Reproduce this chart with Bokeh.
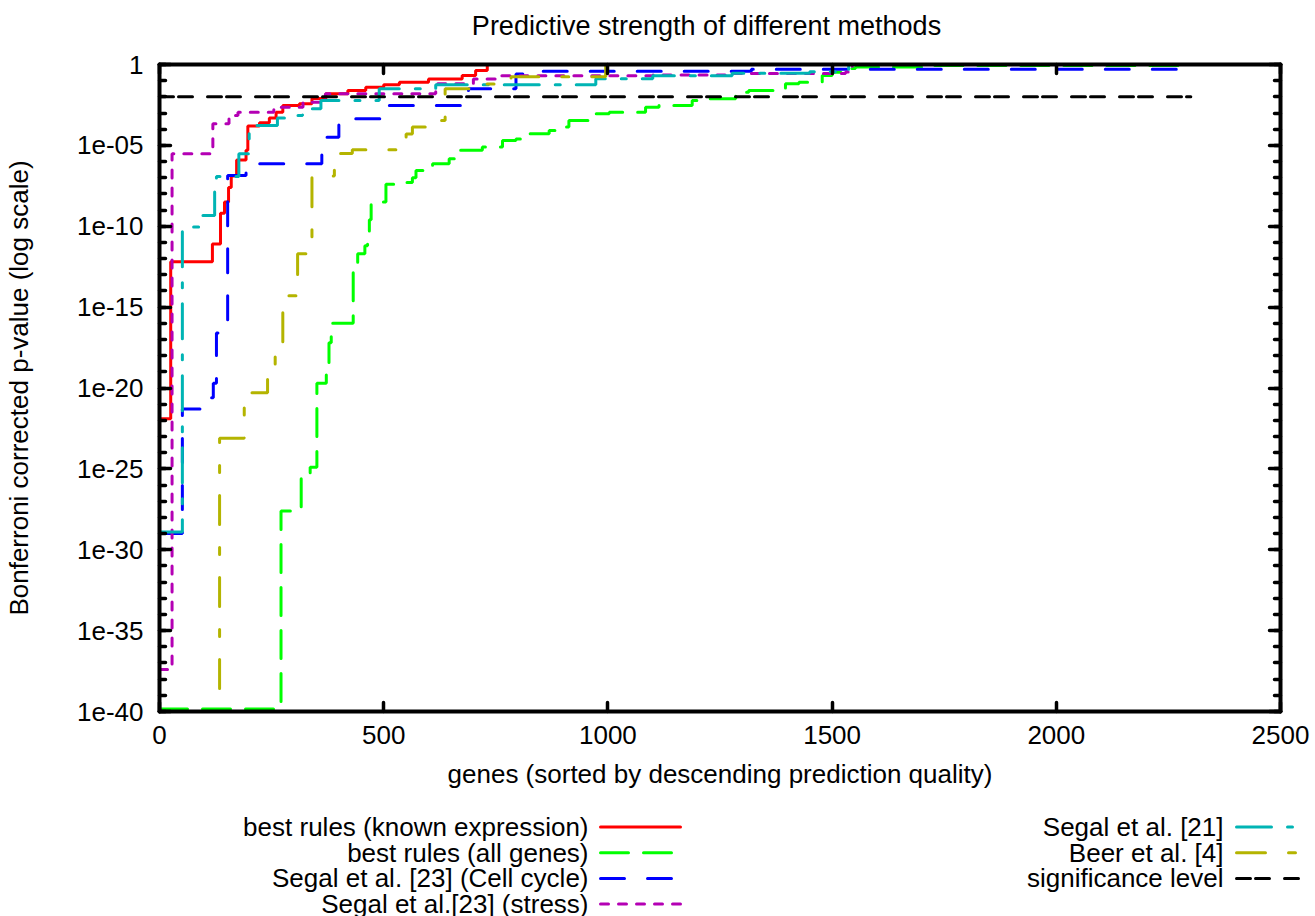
from bokeh.plotting import figure
from bokeh.models import Range1d, FixedTicker, LogAxis, LinearAxis, CustomJSTickFormatter
from bokeh.layouts import column
from bokeh.embed import file_html
from bokeh.resources import INLINE
from bokeh.core.properties import value

FONT = "Liberation Sans"
FS = "26px"

title_text = "Predictive strength of different methods"
x_label = "genes (sorted by descending prediction quality)"
y_label = "Bonferroni corrected p-value (log scale)"

x_ticks = [0, 500, 1000, 1500, 2000, 2500]
y_major_exp = [0, -5, -10, -15, -20, -25, -30, -35, -40]

# step series: gene rank where a step starts, and log10 of the p-value from there on
red_x = [0, 25, 118, 136, 145, 154, 160, 172, 193, 197, 223, 245, 260, 275, 312, 340, 371, 420, 460, 500, 535, 600, 675, 705, 731]
red_e = [-21.9, -12.2, -11.1, -9.2, -8.5, -7.6, -6.9, -5.9, -5.3, -3.8, -3.6, -3.3, -2.95, -2.53, -2.43, -2.1, -1.81, -1.6, -1.4, -1.25, -1.09, -0.9, -0.68, -0.37, 0.0]

green_x = [0, 271, 316, 336, 351, 372, 378, 383, 432, 442, 458, 464, 468, 472, 505, 531, 564, 572, 609, 646, 668, 720, 765, 795, 817, 869, 895, 913, 973, 1003, 1084, 1114, 1188, 1218, 1285, 1314, 1396, 1426, 1478, 1500, 1523, 1552, 1716, 2300]
green_e = [-39.85, -27.6, -25.6, -24.9, -19.7, -18.7, -17.2, -16.0, -12.3, -11.7, -11.2, -10.3, -9.6, -8.5, -7.4, -7.3, -7.0, -6.55, -6.14, -5.83, -5.3, -5.1, -4.7, -4.6, -4.28, -4.08, -3.87, -3.46, -3.05, -2.95, -2.64, -2.53, -2.22, -2.12, -1.71, -1.61, -1.19, -1.09, -0.68, -0.48, -0.25, -0.16, -0.06, -0.06]

blue_x = [0, 51, 104, 120, 127, 152, 193, 362, 400, 494, 689, 795, 847, 1320, 2300]
blue_e = [-29.0, -21.3, -20.6, -19.7, -16.6, -6.86, -6.14, -4.49, -3.36, -2.53, -1.5, -0.58, -0.42, -0.3, -0.3]

magenta_x = [0, 28, 119, 155, 175, 255, 320, 370, 616, 700, 760, 1100, 1277, 1530, 1545]
magenta_e = [-37.4, -5.52, -3.67, -3.15, -2.95, -2.64, -2.33, -1.81, -1.19, -0.9, -0.7, -0.65, -0.55, -0.47, 0.0]

cyan_x = [0, 51, 70, 93, 123, 127, 177, 200, 263, 301, 319, 360, 490, 616, 973, 1100, 1277, 1450, 1537]
cyan_e = [-28.9, -10.26, -10.05, -9.33, -7.68, -6.92, -5.52, -3.77, -3.3, -3.15, -2.74, -2.22, -1.5, -1.25, -0.88, -0.7, -0.54, -0.45, 0.0]

olive_x = [0, 134, 189, 241, 258, 275, 308, 327, 340, 390, 430, 550, 564, 613, 637, 691, 784, 995]
olive_e = [-45.0, -23.1, -20.3, -19.3, -17.2, -14.3, -11.7, -10.8, -6.9, -5.5, -5.27, -4.3, -3.87, -3.46, -1.5, -1.2, -0.75, 0.0]

significance_level = 0.01
sig_x = [0, 2300]

series = [
    ("best rules (known expression)", red_x, red_e, "#ff0000", "solid"),
    ("best rules (all genes)", green_x, green_e, "#00ff00", "28 15"),
    ("Segal et al. [23] (Cell cycle)", blue_x, blue_e, "#0000ff", "24 23"),
    ("Segal et al.[23] (stress)", magenta_x, magenta_e, "#b400b4", "8 10"),
    ("Segal et al. [21]", cyan_x, cyan_e, "#00b4b4", "35 16 5 16"),
    ("Beer et al. [4]", olive_x, olive_e, "#b4b400", "29 23 7 23"),
]
sig_name = "significance level"
sig_color = "#000000"
sig_dash = "14 5 14 15"

W = 1315
H0 = 44           # title strip
H1 = 798 - H0     # main plot
H2 = 916 - H0 - H1  # legend strip


def strip(h):
    f = figure(width=W, height=h, x_range=Range1d(0, W), y_range=Range1d(h, 0),
               toolbar_location=None, output_backend="svg", min_border=0,
               x_axis_location=None, y_axis_location=None)
    f.frame_align = False
    f.grid.visible = False
    f.outline_line_color = None
    return f


# title strip
top = strip(H0)
top.text(x=[706], y=[25], text=[title_text], text_align="center", text_baseline="middle",
         text_font=value(FONT), text_font_size="27px", text_color="black")

p = figure(width=W, height=H1, x_range=Range1d(0, 2500), y_range=Range1d(1e-40, 1),
           y_axis_type="log", toolbar_location=None, output_backend="svg",
           min_border_left=159, min_border_right=35, min_border_top=64 - H0, min_border_bottom=87)
p.frame_align = False
p.grid.visible = False
p.outline_line_color = None

for name, xs, es, color, dash in series:
    p.step(xs, [10.0 ** e for e in es], mode="after", line_width=3, line_color=color,
           line_dash=dash, line_cap="round")
p.line(sig_x, [significance_level] * len(sig_x), line_width=3, line_color=sig_color,
       line_dash=sig_dash, line_cap="round")

yticker = FixedTicker(ticks=[10.0 ** e for e in y_major_exp], minor_ticks=[10.0 ** -k for k in range(0, 41)])
xticker = FixedTicker(ticks=x_ticks, minor_ticks=[])
yfmt = CustomJSTickFormatter(code="""
const e = Math.round(Math.log10(tick));
if (e === 0) return "1";
const a = Math.abs(e);
return "1e-" + (a < 10 ? "0" + a : String(a));
""")
blank = CustomJSTickFormatter(code="return '';")


def style(ax, major_in, minor_in):
    ax.axis_line_width = 4
    ax.axis_line_color = "black"
    ax.axis_line_cap = "round"
    ax.major_tick_in = major_in
    ax.major_tick_out = 0
    ax.minor_tick_in = minor_in
    ax.minor_tick_out = 0
    ax.major_tick_line_width = 3.5
    ax.minor_tick_line_width = 3.5
    ax.major_tick_line_cap = "round"
    ax.minor_tick_line_cap = "round"
    ax.major_tick_line_color = "black"
    ax.minor_tick_line_color = "black"
    ax.major_label_text_font = FONT
    ax.major_label_text_font_size = FS
    ax.major_label_text_color = "black"
    ax.axis_label_text_font = FONT
    ax.axis_label_text_font_size = FS
    ax.axis_label_text_font_style = "normal"
    ax.axis_label_text_color = "black"


ya = p.yaxis[0]
ya.ticker = yticker
ya.formatter = yfmt
style(ya, 11, 6)
ya.axis_label = y_label
ya.major_label_standoff = 16
ya.axis_label_standoff = 40

xa = p.xaxis[0]
xa.ticker = xticker
style(xa, 9, 0)
xa.axis_label = x_label
xa.major_label_standoff = 14
xa.axis_label_standoff = 12

ra = LogAxis(ticker=yticker, formatter=blank)
style(ra, 11, 6)
ra.major_label_text_font_size = "0px"
ra.major_label_standoff = 0
p.add_layout(ra, "right")

ta = LinearAxis(ticker=xticker, formatter=blank)
style(ta, 9, 0)
ta.major_label_text_font_size = "0px"
ta.major_label_standoff = 0
p.add_layout(ta, "above")

# legend strip (gnuplot style: right-aligned label, then line sample)
leg = strip(H2)
entries = [(s[0], s[3], s[4]) for s in series] + [(sig_name, sig_color, sig_dash)]
cols = [(588, 600, 680), (1223, 1236, 1300)]
row_y0, row_dy = 28.5, 25.7
for i, (name, color, dash) in enumerate(entries):
    c = 0 if i < 4 else 1
    r = i if i < 4 else i - 4
    tx, sx0, sx1 = cols[c]
    yy = row_y0 + r * row_dy
    leg.text(x=[tx], y=[yy], text=[name], text_align="right", text_baseline="middle",
             text_font=value(FONT), text_font_size=FS, text_color="black")
    leg.segment(x0=[sx0], y0=[yy], x1=[sx1], y1=[yy], line_color=color, line_width=3,
                line_dash=dash, line_cap="round")

layout = column(top, p, leg, spacing=0)
open("out.html", "w").write(file_html(layout, INLINE))
